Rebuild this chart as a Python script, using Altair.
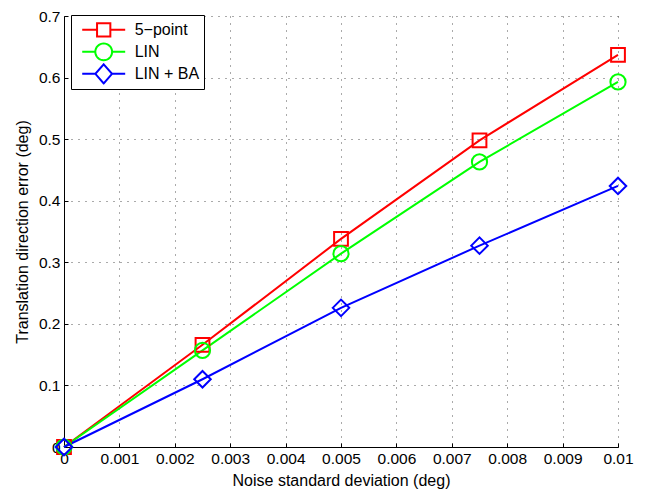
import math
import altair as alt
import pandas as pd

# ---- data ----
noise_std = [0, 0.0025, 0.005, 0.0075, 0.01]
series_names = ["5\u2212point", "LIN", "LIN + BA"]
five_point = [0.0, 0.166, 0.338, 0.498, 0.637]
lin = [0.0, 0.157, 0.314, 0.463, 0.593]
lin_ba = [0.0, 0.110, 0.226, 0.327, 0.424]
x_ticks = [0, 0.001, 0.002, 0.003, 0.004, 0.005, 0.006, 0.007, 0.008, 0.009, 0.01]
y_ticks = [0, 0.1, 0.2, 0.3, 0.4, 0.5, 0.6, 0.7]
colors = ["#ff0000", "#00ff00", "#0000ff"]

rows = []
for name, vals in zip(series_names, [five_point, lin, lin_ba]):
    for x, y in zip(noise_std, vals):
        rows.append({"noise": x, "err": y, "series": name})
df = pd.DataFrame(rows)

FONT = "Liberation Sans"
LABEL_SIZE = 15.5
TITLE_SIZE = 16

x_scale = alt.Scale(domain=[0, 0.01], nice=False, zero=False)
y_scale = alt.Scale(domain=[0, 0.7], nice=False)

x_main = alt.X(
    "noise:Q", scale=x_scale,
    axis=alt.Axis(
        title="Noise standard deviation (deg)",
        values=x_ticks,
        labelExpr="datum.value == 0 ? '0' : format(datum.value, '.3~f')",
        grid=True, ticks=False, domainColor="#000000", domainWidth=1,
        labelPadding=4, titlePadding=6, labelFlush=False,
    ),
)
y_main = alt.Y(
    "err:Q", scale=y_scale,
    axis=alt.Axis(
        title="Translation direction error (deg)",
        values=y_ticks,
        labelExpr="datum.value == 0 ? '0' : format(datum.value, '.1~f')",
        grid=True, ticks=False, domainColor="#000000", domainWidth=1,
        labelPadding=4, titlePadding=8, labelFlush=False,
    ),
)
# inward tick marks (MATLAB style): secondary axes shifted inside the plot
x_ticks_in = alt.X(
    "noise:Q", scale=x_scale,
    axis=alt.Axis(orient="bottom", offset=-4, tickSize=4, tickColor="#000000", tickWidth=1,
                  values=x_ticks, labels=False, domain=False, grid=False, title=None),
)
y_ticks_in = alt.Y(
    "err:Q", scale=y_scale,
    axis=alt.Axis(orient="left", offset=-4, tickSize=4, tickColor="#000000", tickWidth=1,
                  values=y_ticks, labels=False, domain=False, grid=False, title=None),
)

color_scale = alt.Scale(domain=series_names, range=colors)

base = alt.Chart(df)

lines = base.mark_line(strokeWidth=2, clip=False).encode(
    x=x_main, y=y_main,
    color=alt.Color("series:N", scale=color_scale, legend=None),
    detail="series:N",
)

points = base.mark_point(filled=False, strokeWidth=2, opacity=1, clip=False).encode(
    x=alt.X("noise:Q", scale=x_scale, axis=None),
    y=alt.Y("err:Q", scale=y_scale, axis=None),
    color=alt.Color("series:N", scale=color_scale, legend=None),
    shape=alt.Shape("series:N", scale=alt.Scale(domain=series_names, range=["square", "circle", "diamond"]), legend=None),
    size=alt.Size("series:O", scale=alt.Scale(domain=series_names, range=[190, 272, 290]), legend=None),
)

# legend glyphs: line segment with an open marker in the middle (unit = 7px)
def _circle_path(r, n=32):
    pts = []
    for k in range(n):
        a = 2 * math.pi * k / n
        pts.append(f"{r * math.cos(a):.3f},{r * math.sin(a):.3f}")
    return "M" + "L".join(pts) + "Z"

HALF = 3.07
legend_paths = [
    f"M{-HALF},0H-0.95M0.95,0H{HALF}M-0.95,-0.95H0.95V0.95H-0.95Z",
    f"M{-HALF},0H-1.2M1.2,0H{HALF}" + _circle_path(1.2),
    f"M{-HALF},0H-1.19M1.19,0H{HALF}M0,-1.36L1.19,0L0,1.36L-1.19,0Z",
]
legend_def = alt.Legend(
    title=None, orient="none", legendX=7, legendY=-1,
    strokeColor="#000000", fillColor="#ffffff", padding=4,
    symbolSize=196, symbolStrokeWidth=2, symbolOffset=20.7, labelOffset=23,
    rowPadding=0, clipHeight=21.7, labelFontSize=16, labelFont=FONT, symbolOpacity=1,
    labelColor="#000000",
)
legend_layer = base.mark_point(filled=False, strokeWidth=2, opacity=0).encode(
    x=x_ticks_in, y=y_ticks_in,
    color=alt.Color("series:N", scale=color_scale, legend=legend_def),
    shape=alt.Shape("series:N", scale=alt.Scale(domain=series_names, range=legend_paths), legend=legend_def),
)

chart = (
    alt.layer(lines, points, legend_layer)
    .resolve_scale(color="independent", shape="independent", size="independent")
    .resolve_axis(x="independent", y="independent")
    .properties(
        width=554, height=431,
        autosize=alt.AutoSizeParams(type="none"),
        padding={"left": 56, "top": 8, "right": 20, "bottom": 46},
    )
    .configure_view(stroke=None)
    .configure_axis(
        labelFont=FONT, titleFont=FONT, labelFontSize=LABEL_SIZE, titleFontSize=TITLE_SIZE,
        titleFontWeight="normal", labelColor="#000000", titleColor="#000000",
        gridColor="#555555", gridDash=[1, 6], gridWidth=1, gridOpacity=1,
    )
)

chart.save("out.html", embed_options={"renderer": "svg", "actions": False})
